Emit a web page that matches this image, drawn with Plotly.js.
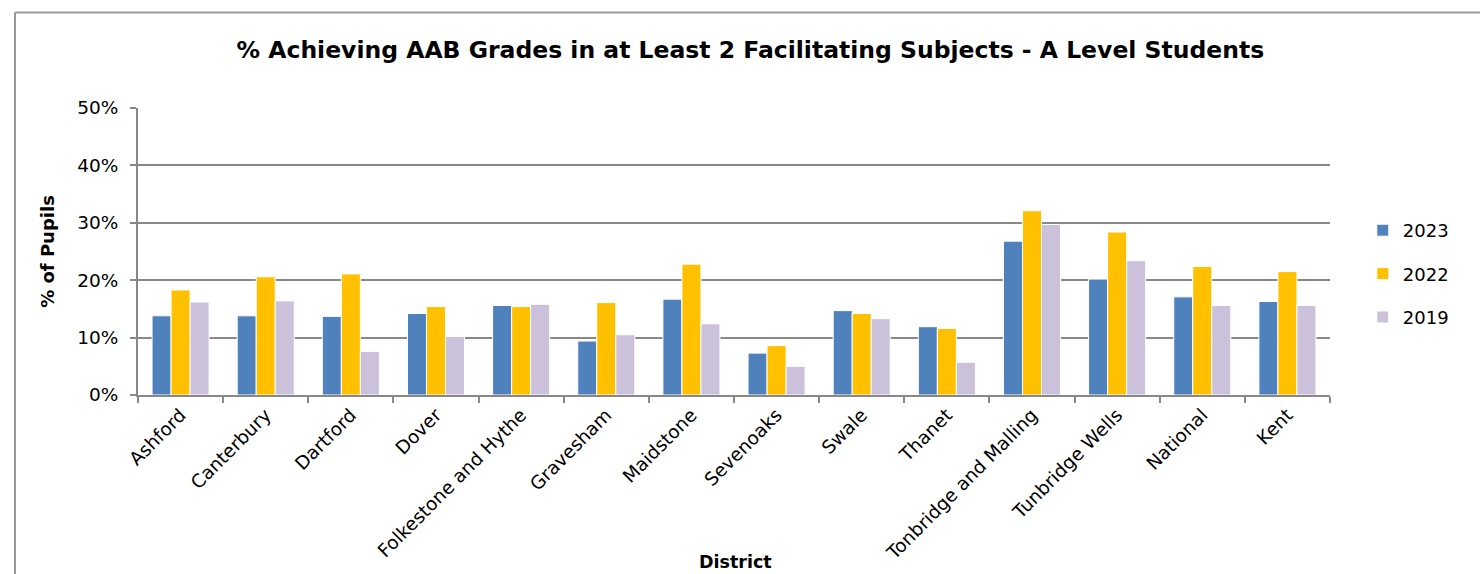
<!DOCTYPE html>
<html><head><meta charset="utf-8">
<script src="https://cdn.plot.ly/plotly-3.0.1.min.js"></script>
<style>html,body{margin:0;padding:0;background:#fff;}#chart{width:1480px;height:574px;}</style>
</head><body><div id="chart"></div>
<script>
const districts = ["Ashford","Canterbury","Dartford","Dover","Folkestone and Hythe","Gravesham","Maidstone","Sevenoaks","Swale","Thanet","Tonbridge and Malling","Tunbridge Wells","National","Kent"];
const values2023 = [13.8,13.8,13.7,14.2,15.6,9.4,16.7,7.3,14.7,11.9,26.8,20.2,17.1,16.3];
const values2022 = [18.3,20.6,21.1,15.4,15.4,16.1,22.8,8.6,14.2,11.6,32.1,28.4,22.4,21.5];
const values2019 = [16.2,16.4,7.6,10.2,15.8,10.5,12.4,5.0,13.3,5.7,29.7,23.4,15.6,15.6];
const seriesNames = ["2023","2022","2019"];
const seriesColors = ["#4F81BD","#FFC000","#CCC1DA"];
const yTickVals = [0,10,20,30,40,50];
const yTickText = ["0%","10%","20%","30%","40%","50%"];

const font = "DejaVu Sans, Verdana, Tahoma, sans-serif";
const allVals = [values2023, values2022, values2019];
const traces = allVals.map((v,i)=>({
  type:"bar", x:districts, y:v, name:seriesNames[i], legendgroup:"g"+i,
  marker:{color:seriesColors[i], line:{color:"#ffffff", width:1}}
}));
const layout = {
  width:1480, height:574,
  margin:{l:138, r:150, t:108, b:179},
  paper_bgcolor:"#fff", plot_bgcolor:"#fff",
  barmode:"group", bargap:0.33, bargroupgap:0,
  title:{text:"<b>% Achieving AAB Grades in at Least 2 Facilitating Subjects - A Level Students</b>",
    font:{family:font, size:23.5, color:"#000"}, x:0.507, xanchor:"center", y:0.913, yanchor:"middle"},
  xaxis:{type:"category", tickson:"boundaries", ticks:"outside", ticklen:6, tickwidth:2, tickcolor:"#888",
    showline:true, linecolor:"#888", linewidth:2, tickangle:-45, automargin:false,
    tickfont:{family:font, size:18.5, color:"#000"}},
  yaxis:{range:[0,50], tickvals:yTickVals, ticktext:yTickText, ticks:"outside", ticklen:6, tickwidth:2, tickcolor:"#888",
    showline:true, linecolor:"#888", linewidth:2, gridcolor:"#888", gridwidth:2, zeroline:false, automargin:false,
    ticklabelstandoff:8,
    tickfont:{family:font, size:18.5, color:"#000"},
    title:{text:"<b>% of Pupils</b>", font:{family:font, size:18, color:"#000"}, standoff:18}},
  annotations:[
    {text:"<b>District</b>", xref:"paper", yref:"paper", x:(735-138)/1192, y:(395-562)/287, xanchor:"center", yanchor:"middle",
     showarrow:false, font:{family:font, size:17.5, color:"#000"}}
  ],
  legend:{x:1.0275, y:(395-274)/287, xanchor:"left", yanchor:"middle", font:{family:font, size:18, color:"#000"},
    traceorder:"grouped", tracegroupgap:17, itemwidth:30},
  shapes:[
    {type:"line", xref:"paper", yref:"paper", x0:(15-138)/1192, x1:(1480-138)/1192, y0:(395-12.5)/287, y1:(395-12.5)/287, line:{color:"#999", width:2}},
    {type:"line", xref:"paper", yref:"paper", x0:(15-138)/1192, x1:(15-138)/1192, y0:(395-12.5)/287, y1:(395-574)/287, line:{color:"#999", width:2}}
  ],
  showlegend:true
};
Plotly.newPlot("chart", traces, layout, {displayModeBar:false});
</script></body></html>
